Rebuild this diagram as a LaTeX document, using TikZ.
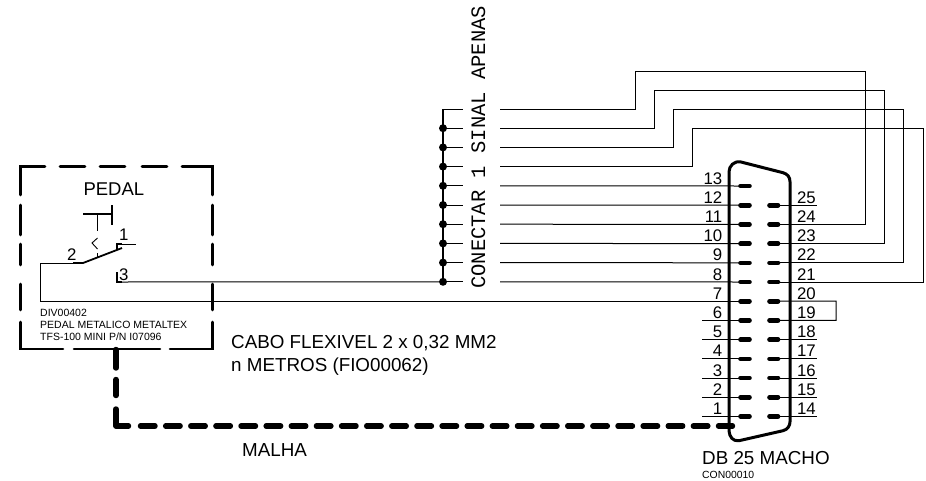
\documentclass[tikz,border=0pt]{standalone}
\usepackage{fontspec}
\setmainfont{Liberation Sans}
\newfontfamily\stickfont{Liberation Mono}
\newcommand{\fsz}[1]{\fontsize{#1}{#1}\selectfont}
\tikzset{
  wire/.style={draw=black,line width=1pt},
  contact/.style={draw=black,line width=1.8pt},
  framed/.style={draw=black,line width=2.6pt,line cap=round},
  cable/.style={draw=black,line width=5.4pt,line cap=round},
  shell/.style={draw=black,line width=3pt,line cap=round,line join=round},
  pad/.style={draw=black,line width=4.6pt,line cap=round},
  junction/.style={circle,fill=black,inner sep=0pt,minimum size=8pt},
  txt/.style={inner sep=0pt,text=black},
  pinl/.style={txt,anchor=base east,font=\fsz{16.8}},
  pinr/.style={txt,anchor=base west,font=\fsz{16.8}},
  big/.style={txt,anchor=base west,font=\fsz{18.8}},
  tiny/.style={txt,anchor=base west,font=\fsz{10.5}}
}
\begin{document}
\begin{tikzpicture}[x=1pt,y=-1pt]
\useasboundingbox (0,0) rectangle (926,480);
% --- connector pins
\foreach \p in {1,...,13}{
  \pgfmathsetmacro{\yy}{186+(13-\p)*19.2}
  \coordinate (L\p) at (740.5,\yy);
  \coordinate (Lb\p) at (749.5,\yy);
  \coordinate (Ls\p) at (702,\yy);
  \node[pinl] (ln\p) at (722.5,\yy-2) {\p};
}
\foreach \p in {14,...,25}{
  \pgfmathsetmacro{\yy}{186+(26-\p)*19.2}
  \coordinate (Ra\p) at (769.5,\yy);
  \coordinate (R\p) at (778,\yy);
  \coordinate (Rs\p) at (817,\yy);
  \node[pinr] (rn\p) at (796.8,\yy-2) {\p};
}
% --- bus rows
\foreach \r in {1,...,10}{
  \pgfmathsetmacro{\yy}{109+(\r-1)*19.2}
  \coordinate (B\r) at (443,\yy);
  \coordinate (Be\r) at (462.7,\yy);
  \coordinate (S\r) at (500,\yy);
  \draw[wire] (B\r) -- (Be\r);
}
\draw[wire,line width=1.3pt] (B1) -- (B10);
\foreach \r in {2,...,10}{ \node[junction] (J\r) at (B\r) {}; }
% --- routed wires to high pins
\foreach \r/\xa/\ya/\xb/\p in {1/635/71/865/24,2/654/90/884.5/23,3/673/109/903.5/22,4/692/128.2/923/21}{
  \coordinate (wa\r) at (\xa,\ya);
  \coordinate (wb\r) at (\xb,\ya);
  \draw[wire,line join=miter] (S\r) -| (wa\r) -- (wb\r) |- (R\p);
}
% --- straight wires to low pins
\foreach \r/\p in {5/13,6/12,7/11,8/10,9/9,10/8}{ \draw[wire] (S\r) -- (L\p); }
\foreach \p in {6,5,4,3,2,1}{ \draw[wire] (Ls\p) -- (L\p); }
\foreach \p in {25,18,17,16,15,14}{ \draw[wire] (R\p) -- (Rs\p); }
\coordinate (loop) at (836,301);
\draw[wire] (R20) -- (loop) |- (R19);
% --- pads
\foreach \p in {1,...,13}{ \draw[pad] (L\p) -- (Lb\p); }
\foreach \p in {14,...,25}{ \draw[pad] (Ra\p) -- (R\p); }
% --- shell
\draw[shell] (729,428) -- (729,431) .. controls (729.5,437) and (733,441.5) .. (739,440.7) -- (783,430.7)
  .. controls (787.5,429.5) and (790,426) .. (790,421.7) -- (790,181.7)
  .. controls (790,177) and (787.5,174) .. (783,172.7) -- (741,162)
  .. controls (734,160.5) and (729,166) .. (729,172) -- cycle;
% --- pedal box (dashed outline)
\draw[framed] (45,166.5) -- (20.5,166.5) -- (20.5,195);
\draw[framed] (60,166.5) -- (85,166.5);
\draw[framed] (100,166.5) -- (125,166.5);
\draw[framed] (142,166.5) -- (167,166.5);
\draw[framed] (182,166.5) -- (212.5,166.5) -- (212.5,195);
\draw[framed] (20.5,205) -- (20.5,235);
\draw[framed] (20.5,244) -- (20.5,265);
\draw[framed] (20.5,284) -- (20.5,310);
\draw[framed] (20.5,322) -- (20.5,349) -- (63,349);
\draw[framed] (212.5,205) -- (212.5,235);
\draw[framed] (212.5,244) -- (212.5,265);
\draw[framed] (212.5,284) -- (212.5,310);
\draw[framed] (212.5,322) -- (212.5,349) -- (170,349);
\draw[framed] (74,349) -- (160,349);
% --- switch
\draw[line width=1.3pt] (83,214) -- (112,214);
\draw[line width=1.3pt] (112,205) -- (112,225);
\draw[line width=0.9pt] (97.5,214) -- (97.5,231);
\draw[line width=0.9pt] (97.5,238) -- (92,243) -- (97.5,249);
\draw[line width=0.9pt] (97.5,253) -- (97.5,257);
\coordinate (c2) at (83,263);
\coordinate (c2l) at (40,263);
\coordinate (c1) at (117,244);
\coordinate (c3) at (117,282);
\coordinate (c3t) at (117,272);
\draw[wire] (c2l) -- (c2);
\draw[contact] (73,263) -- (c2) -- (122,248);
\draw[wire] (c1) -- (136,244);
\draw[contact] (117,250) -- (c1) -- (122,244);
\draw[contact] (c3t) -- (c3) -- (122,282);
\draw[wire] (c3) -- (J10);
\draw[wire] (c2l) |- (L7);
\node[txt,anchor=base west,font=\fsz{16.8}] (n1) at (119,240.7) {1};
\node[txt,anchor=base west,font=\fsz{16.8}] (n2) at (67,260) {2};
\node[txt,anchor=base west,font=\fsz{16.8}] (n3) at (119,280) {3};
% --- cable shield
\coordinate (csa) at (116,349.5);
\coordinate (csc) at (116,426);
\coordinate (csd) at (140.5,426);
\coordinate (cse) at (732.5,426);
\draw[cable,line join=round,dash pattern=on 18.5pt off 11.5pt on 16pt off 13.5pt on 29.5pt off 200pt] (csa) -- (csc) -- (csd);
\draw[cable,dash pattern=on 14.5pt off 10.63pt] (csd) -- (cse);
% --- texts
\node[big,font=\fsz{18.5}] (pedal) at (83.3,195.7) {PEDAL};
\node[tiny] (t1) at (40,316.7) {DIV00402};
\node[tiny] (t2) at (40,328) {PEDAL METALICO METALTEX};
\node[tiny] (t3) at (40,340) {TFS-100 MINI P/N I07096};
\node[big] (cabo) at (231,348) {CABO FLEXIVEL 2 x 0,32 MM2};
\node[big] (metros) at (231,371) {n METROS (FIO00062)};
\node[big] (malha) at (242,456) {MALHA};
\node[big] (db) at (702,464) {DB 25 MACHO};
\node[txt,anchor=base west,font=\fsz{10.4}] (con) at (702,478) {CON00010};
\node[txt,anchor=base west,rotate=90,font=\stickfont\fsz{20.5}] (vert) at (485,289) {CONECTAR 1 SINAL APENAS};
\end{tikzpicture}
\end{document}
